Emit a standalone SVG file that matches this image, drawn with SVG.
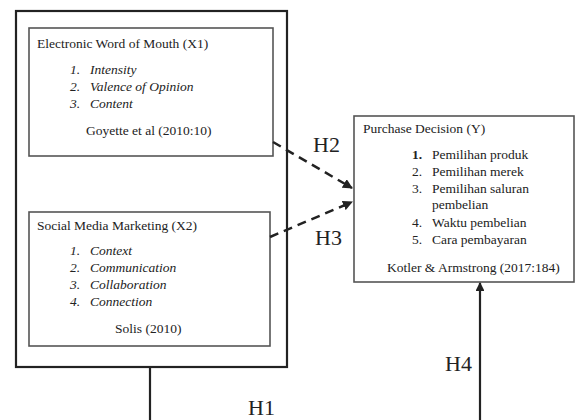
<svg xmlns="http://www.w3.org/2000/svg" width="575" height="420" viewBox="0 0 575 420">
<style>
text{font-family:"Liberation Serif","Times New Roman",serif;fill:#222;font-size:13.5px}
.it{font-style:italic}
.h{font-size:22px}
.outer{fill:none;stroke:#222;stroke-width:2.2}
.inner{fill:#fff;stroke:#555;stroke-width:1.6}
.dash{fill:none;stroke:#222;stroke-width:2.5;stroke-dasharray:9 6}
.solid{fill:none;stroke:#222;stroke-width:2.2}
</style>
<defs>
<marker id="ah" viewBox="0 0 10 10" refX="9" refY="5" markerWidth="4" markerHeight="4" orient="auto" markerUnits="strokeWidth">
<path d="M0,0 L10,5 L0,10 z" fill="#222"/>
</marker>
</defs>
<rect width="575" height="420" fill="#fff"/>
<g id="outer-box">
<rect class="outer" x="16" y="11" width="271" height="356"/>
</g>
<g id="x1">
<rect class="inner" x="29" y="28" width="244" height="128"/>
<text x="37" y="48">Electronic Word of Mouth (X1)</text>
<text class="it" x="70" y="74">1.</text><text class="it" x="90" y="74">Intensity</text>
<text class="it" x="70" y="91">2.</text><text class="it" x="90" y="91">Valence of Opinion</text>
<text class="it" x="70" y="108">3.</text><text class="it" x="90" y="108">Content</text>
<text x="86" y="135">Goyette et al (2010:10)</text>
</g>
<g id="x2">
<rect class="inner" x="29" y="212" width="241" height="134"/>
<text x="37" y="230">Social Media Marketing (X2)</text>
<text class="it" x="70" y="255">1.</text><text class="it" x="90" y="255">Context</text>
<text class="it" x="70" y="272">2.</text><text class="it" x="90" y="272">Communication</text>
<text class="it" x="70" y="289">3.</text><text class="it" x="90" y="289">Collaboration</text>
<text class="it" x="70" y="306">4.</text><text class="it" x="90" y="306">Connection</text>
<text x="115" y="333">Solis (2010)</text>
</g>
<g id="y">
<rect class="inner" x="354" y="116" width="220" height="166"/>
<text x="363" y="133">Purchase Decision (Y)</text>
<text x="412" y="159" font-weight="bold">1.</text><text x="432" y="159">Pemilihan produk</text>
<text x="412" y="176">2.</text><text x="432" y="176">Pemilihan merek</text>
<text x="412" y="193">3.</text><text x="432" y="193">Pemilihan saluran</text>
<text x="432" y="209">pembelian</text>
<text x="412" y="227">4.</text><text x="432" y="227">Waktu pembelian</text>
<text x="412" y="244">5.</text><text x="432" y="244">Cara pembayaran</text>
<text x="387" y="272">Kotler &amp; Armstrong (2017:184)</text>
</g>
<g id="connectors">
<path class="dash" d="M273,142 L352,188" marker-end="url(#ah)"/>
<path class="dash" d="M270,237 L352,202" marker-end="url(#ah)"/>
<path class="solid" d="M150,367 L150,420"/>
<path class="solid" d="M480,420 L480,283" marker-end="url(#ah)"/>
<text class="h" x="313" y="152">H2</text>
<text class="h" x="315" y="245">H3</text>
<text class="h" x="248" y="415">H1</text>
<text class="h" x="445" y="371">H4</text>
</g>
</svg>
